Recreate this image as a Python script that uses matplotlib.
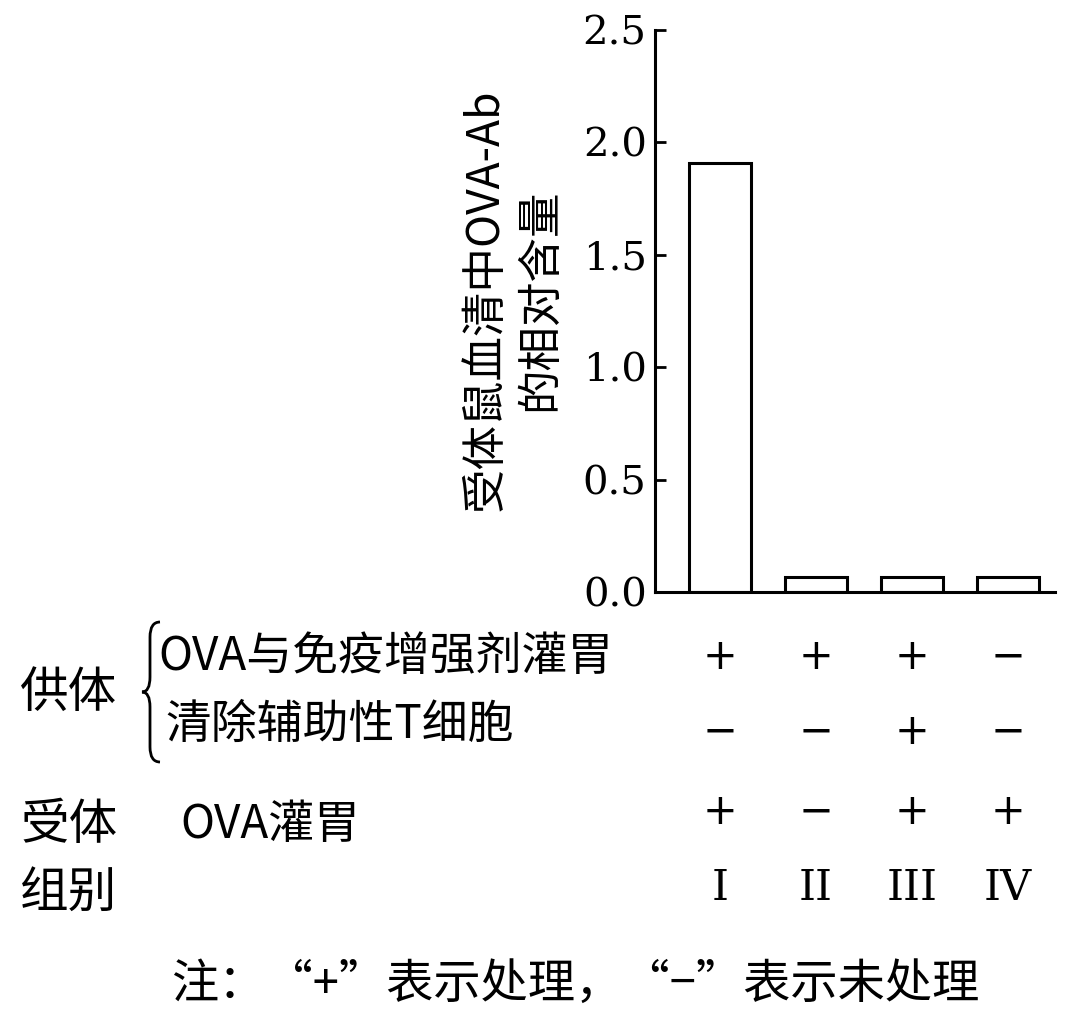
import matplotlib.pyplot as plt
from matplotlib.path import Path
from matplotlib.patches import PathPatch

plt.rcParams['font.family'] = ['Noto Sans CJK SC', 'DejaVu Serif']

groups = ['I', 'II', 'III', 'IV']
values = [1.91, 0.068, 0.068, 0.068]
yticks = [0.0, 0.5, 1.0, 1.5, 2.0, 2.5]
row_donor1 = ['+', '+', '+', '−']
row_donor2 = ['−', '−', '+', '−']
row_recv = ['+', '−', '+', '+']

W, H = 1080, 1024
fig = plt.figure(figsize=(W / 100, H / 100), dpi=100)
ax = fig.add_axes([655 / W, 1 - 592 / H, 400 / W, 562 / H])

x = list(range(len(groups)))
ax.bar(x, values, width=0.65, color='white', edgecolor='black', linewidth=2.2)
ax.set_xlim(-0.677, 3.49)
ax.set_ylim(0, 2.5)
ax.set_yticks(yticks)
ax.set_yticklabels([f'{v:.1f}' for v in yticks], family='DejaVu Serif', fontsize=29)
ax.set_xticks([])
ax.tick_params(axis='y', direction='in', length=8, width=2, pad=6)
for s in ['top', 'right']:
    ax.spines[s].set_visible(False)
for s in ['left', 'bottom']:
    ax.spines[s].set_linewidth(2.2)

fig.text(512 / W, 1 - 300 / H, '受体鼠血清中OVA-Ab\n的相对含量', rotation=90,
         ha='center', va='center', fontsize=32, linespacing=1.25)

def ft(px, py, s, **kw):
    kw.setdefault('fontsize', 33)
    kw.setdefault('va', 'center')
    fig.text(px / W, 1 - py / H, s, **kw)

ft(20, 693, '供体', fontsize=35)
ft(158, 657, 'OVA与免疫增强剂灌胃')
ft(165, 725, '清除辅助性T细胞')
ft(20, 825, '受体', fontsize=35)
ft(180, 825, 'OVA灌胃')
ft(20, 893, '组别', fontsize=35)
ft(575, 985, '注：“+”表示处理，“−”表示未处理', ha='center', fontsize=34)

# brace
bx, top, bot, mid = 152, 622, 762, 692
verts = [(bx + 8, top), (bx - 2, top), (bx - 2, top + 15), (bx - 2, mid - 15),
         (bx - 2, mid), (bx - 10, mid), (bx - 2, mid), (bx - 2, mid + 15),
         (bx - 2, bot - 15), (bx - 2, bot), (bx + 8, bot)]
codes = [Path.MOVETO, Path.CURVE3, Path.CURVE3, Path.LINETO, Path.CURVE3, Path.CURVE3,
         Path.CURVE3, Path.CURVE3, Path.LINETO, Path.CURVE3, Path.CURVE3]
verts = [(vx / W, 1 - vy / H) for vx, vy in verts]
fig.add_artist(PathPatch(Path(verts, codes), transform=fig.transFigure,
                         fill=False, lw=2, color='black'))

for i, g in enumerate(groups):
    xd = ax.transData.transform((i, 0))[0]
    xf = fig.transFigure.inverted().transform((xd, 0))[0]
    for py, row in [(657, row_donor1), (732, row_donor2), (812, row_recv)]:
        fig.text(xf, 1 - py / H, row[i], ha='center', va='center', fontsize=30,
                 family='DejaVu Sans')
    fig.text(xf, 1 - 888 / H, g, ha='center', va='center', fontsize=31,
             family='DejaVu Serif')

fig.savefig('out.png', dpi=100)
